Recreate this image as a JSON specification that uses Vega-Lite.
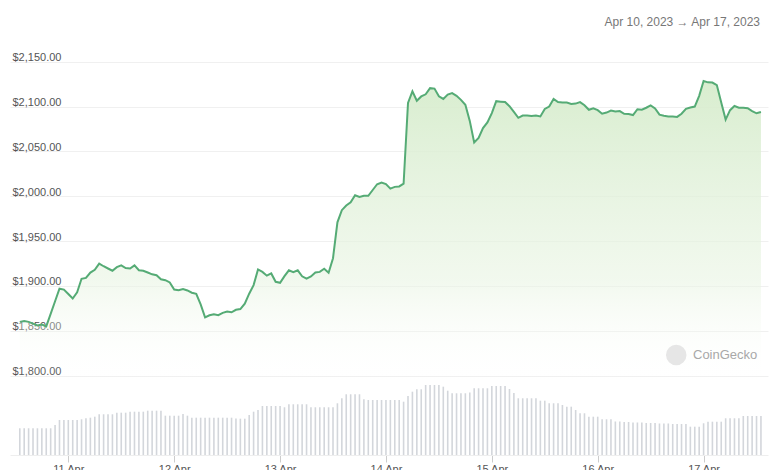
{
  "$schema": "https://vega.github.io/schema/vega-lite/v6.json",
  "width": 758,
  "height": 415,
  "autosize": "none",
  "padding": {"left": 10, "top": 40, "right": 12, "bottom": 15},
  "background": "white",
  "title": {"text": "Apr 10, 2023   →   Apr 17, 2023", "anchor": "end", "frame": "group", "fontSize": 12, "fontWeight": "normal", "color": "#777777", "font": "Liberation Sans", "offset": 11, "dx": -8},
  "config": {
    "view": {"stroke": null},
    "font": "Liberation Sans"
  },
  "datasets": {
    "mark": [
      {"t":"2023-04-16T17:48","p":1823,"label":""},
      {"t":"2023-04-16T21:36","p":1823,"label":"CoinGecko"}
    ]
  },
  "data": {"values": [
    {"t":"2023-04-10T13:00","p":1860,"v":6.68},
    {"t":"2023-04-10T14:00","p":1861,"v":6.68},
    {"t":"2023-04-10T15:00","p":1860,"v":6.68},
    {"t":"2023-04-10T16:00","p":1858,"v":6.68},
    {"t":"2023-04-10T17:00","p":1856,"v":6.68},
    {"t":"2023-04-10T18:00","p":1857,"v":6.68},
    {"t":"2023-04-10T19:00","p":1855,"v":6.68},
    {"t":"2023-04-10T20:00","p":1869,"v":6.68},
    {"t":"2023-04-10T21:00","p":1883,"v":7.5},
    {"t":"2023-04-10T22:00","p":1897,"v":8.75},
    {"t":"2023-04-10T23:00","p":1896,"v":8.75},
    {"t":"2023-04-11T00:00","p":1891,"v":8.75},
    {"t":"2023-04-11T01:00","p":1886,"v":8.75},
    {"t":"2023-04-11T02:00","p":1893,"v":8.75},
    {"t":"2023-04-11T03:00","p":1908,"v":8.93},
    {"t":"2023-04-11T04:00","p":1909,"v":9.18},
    {"t":"2023-04-11T05:00","p":1915,"v":9.33},
    {"t":"2023-04-11T06:00","p":1918,"v":9.58},
    {"t":"2023-04-11T07:00","p":1925,"v":10.18},
    {"t":"2023-04-11T08:00","p":1922,"v":10.18},
    {"t":"2023-04-11T09:00","p":1919.5,"v":10.18},
    {"t":"2023-04-11T10:00","p":1917,"v":10.18},
    {"t":"2023-04-11T11:00","p":1921,"v":10.58},
    {"t":"2023-04-11T12:00","p":1923,"v":10.58},
    {"t":"2023-04-11T13:00","p":1920,"v":10.58},
    {"t":"2023-04-11T14:00","p":1919.5,"v":10.83},
    {"t":"2023-04-11T15:00","p":1923,"v":10.83},
    {"t":"2023-04-11T16:00","p":1917.5,"v":10.83},
    {"t":"2023-04-11T17:00","p":1917,"v":10.83},
    {"t":"2023-04-11T18:00","p":1915,"v":11.08},
    {"t":"2023-04-11T19:00","p":1913,"v":11.08},
    {"t":"2023-04-11T20:00","p":1912,"v":11.08},
    {"t":"2023-04-11T21:00","p":1907.5,"v":11.08},
    {"t":"2023-04-11T22:00","p":1906.5,"v":9.83},
    {"t":"2023-04-11T23:00","p":1904,"v":9.83},
    {"t":"2023-04-12T00:00","p":1896,"v":9.83},
    {"t":"2023-04-12T01:00","p":1895.3,"v":9.83},
    {"t":"2023-04-12T02:00","p":1896.6,"v":10.25},
    {"t":"2023-04-12T03:00","p":1895,"v":9.83},
    {"t":"2023-04-12T04:00","p":1892.5,"v":9.33},
    {"t":"2023-04-12T05:00","p":1891.2,"v":9.33},
    {"t":"2023-04-12T06:00","p":1879.5,"v":9.33},
    {"t":"2023-04-12T07:00","p":1865,"v":9.33},
    {"t":"2023-04-12T08:00","p":1867.3,"v":9.33},
    {"t":"2023-04-12T09:00","p":1868.5,"v":9.33},
    {"t":"2023-04-12T10:00","p":1867.5,"v":9.33},
    {"t":"2023-04-12T11:00","p":1870,"v":9.33},
    {"t":"2023-04-12T12:00","p":1871.5,"v":9.33},
    {"t":"2023-04-12T13:00","p":1870.7,"v":9.33},
    {"t":"2023-04-12T14:00","p":1873.5,"v":9.13},
    {"t":"2023-04-12T15:00","p":1874.3,"v":9.08},
    {"t":"2023-04-12T16:00","p":1880.2,"v":9.08},
    {"t":"2023-04-12T17:00","p":1891.4,"v":10},
    {"t":"2023-04-12T18:00","p":1901,"v":10.83},
    {"t":"2023-04-12T19:00","p":1918.4,"v":11.25},
    {"t":"2023-04-12T20:00","p":1915.7,"v":12.25},
    {"t":"2023-04-12T21:00","p":1911.5,"v":12.25},
    {"t":"2023-04-12T22:00","p":1914,"v":12.25},
    {"t":"2023-04-12T23:00","p":1904.7,"v":12.25},
    {"t":"2023-04-13T00:00","p":1903.5,"v":12.25},
    {"t":"2023-04-13T01:00","p":1911,"v":11.93},
    {"t":"2023-04-13T02:00","p":1917.5,"v":12.68},
    {"t":"2023-04-13T03:00","p":1915.5,"v":12.68},
    {"t":"2023-04-13T04:00","p":1917.5,"v":12.68},
    {"t":"2023-04-13T05:00","p":1910.8,"v":12.68},
    {"t":"2023-04-13T06:00","p":1908.2,"v":12.68},
    {"t":"2023-04-13T07:00","p":1910.7,"v":11.93},
    {"t":"2023-04-13T08:00","p":1915,"v":11.93},
    {"t":"2023-04-13T09:00","p":1915.7,"v":11.93},
    {"t":"2023-04-13T10:00","p":1919.3,"v":11.93},
    {"t":"2023-04-13T11:00","p":1914.8,"v":11.93},
    {"t":"2023-04-13T12:00","p":1931,"v":11.93},
    {"t":"2023-04-13T13:00","p":1971,"v":12.93},
    {"t":"2023-04-13T14:00","p":1984.5,"v":14.18},
    {"t":"2023-04-13T15:00","p":1989.7,"v":15.18},
    {"t":"2023-04-13T16:00","p":1993.4,"v":15.18},
    {"t":"2023-04-13T17:00","p":2001.2,"v":15.18},
    {"t":"2023-04-13T18:00","p":1999.3,"v":15.18},
    {"t":"2023-04-13T19:00","p":2000.6,"v":13.93},
    {"t":"2023-04-13T20:00","p":2000.5,"v":13.75},
    {"t":"2023-04-13T21:00","p":2007,"v":13.75},
    {"t":"2023-04-13T22:00","p":2013.4,"v":13.75},
    {"t":"2023-04-13T23:00","p":2015.4,"v":13.75},
    {"t":"2023-04-14T00:00","p":2013.6,"v":13.75},
    {"t":"2023-04-14T01:00","p":2008.5,"v":13.75},
    {"t":"2023-04-14T02:00","p":2010.5,"v":13.75},
    {"t":"2023-04-14T03:00","p":2011,"v":13.75},
    {"t":"2023-04-14T04:00","p":2014,"v":13.33},
    {"t":"2023-04-14T05:00","p":2104,"v":14.75},
    {"t":"2023-04-14T06:00","p":2117,"v":15.83},
    {"t":"2023-04-14T07:00","p":2106.5,"v":16.43},
    {"t":"2023-04-14T08:00","p":2111.3,"v":16.43},
    {"t":"2023-04-14T09:00","p":2113.7,"v":17.5},
    {"t":"2023-04-14T10:00","p":2120.5,"v":17.5},
    {"t":"2023-04-14T11:00","p":2120,"v":17.5},
    {"t":"2023-04-14T12:00","p":2111.5,"v":17.5},
    {"t":"2023-04-14T13:00","p":2108.5,"v":17.08},
    {"t":"2023-04-14T14:00","p":2113.4,"v":16.08},
    {"t":"2023-04-14T15:00","p":2115,"v":15.43},
    {"t":"2023-04-14T16:00","p":2112,"v":15.43},
    {"t":"2023-04-14T17:00","p":2107.5,"v":15.43},
    {"t":"2023-04-14T18:00","p":2102,"v":15.43},
    {"t":"2023-04-14T19:00","p":2084,"v":15.63},
    {"t":"2023-04-14T20:00","p":2060,"v":16.68},
    {"t":"2023-04-14T21:00","p":2065,"v":16.68},
    {"t":"2023-04-14T22:00","p":2076,"v":16.68},
    {"t":"2023-04-14T23:00","p":2082.4,"v":16.68},
    {"t":"2023-04-15T00:00","p":2092.7,"v":17.25},
    {"t":"2023-04-15T01:00","p":2106,"v":17.25},
    {"t":"2023-04-15T02:00","p":2105.5,"v":17.25},
    {"t":"2023-04-15T03:00","p":2105,"v":17.25},
    {"t":"2023-04-15T04:00","p":2100.4,"v":16.5},
    {"t":"2023-04-15T05:00","p":2094,"v":15.5},
    {"t":"2023-04-15T06:00","p":2087.5,"v":14.18},
    {"t":"2023-04-15T07:00","p":2090,"v":14.18},
    {"t":"2023-04-15T08:00","p":2090,"v":14.18},
    {"t":"2023-04-15T09:00","p":2089.4,"v":14.18},
    {"t":"2023-04-15T10:00","p":2090,"v":14.18},
    {"t":"2023-04-15T11:00","p":2089,"v":13.58},
    {"t":"2023-04-15T12:00","p":2097.3,"v":13.58},
    {"t":"2023-04-15T13:00","p":2100,"v":12.93},
    {"t":"2023-04-15T14:00","p":2108.4,"v":12.93},
    {"t":"2023-04-15T15:00","p":2105,"v":12.93},
    {"t":"2023-04-15T16:00","p":2104.5,"v":12.5},
    {"t":"2023-04-15T17:00","p":2104.5,"v":12.08},
    {"t":"2023-04-15T18:00","p":2103,"v":12.08},
    {"t":"2023-04-15T19:00","p":2103.3,"v":11.25},
    {"t":"2023-04-15T20:00","p":2105,"v":10.43},
    {"t":"2023-04-15T21:00","p":2101.5,"v":10.43},
    {"t":"2023-04-15T22:00","p":2096.4,"v":9.58},
    {"t":"2023-04-15T23:00","p":2098,"v":9.58},
    {"t":"2023-04-16T00:00","p":2096,"v":9.58},
    {"t":"2023-04-16T01:00","p":2092,"v":8.93},
    {"t":"2023-04-16T02:00","p":2093.3,"v":8.93},
    {"t":"2023-04-16T03:00","p":2095.5,"v":8.93},
    {"t":"2023-04-16T04:00","p":2094.5,"v":8.38},
    {"t":"2023-04-16T05:00","p":2095,"v":8.38},
    {"t":"2023-04-16T06:00","p":2092,"v":8.25},
    {"t":"2023-04-16T07:00","p":2091.6,"v":8.25},
    {"t":"2023-04-16T08:00","p":2090.5,"v":8.13},
    {"t":"2023-04-16T09:00","p":2097,"v":8.13},
    {"t":"2023-04-16T10:00","p":2096.5,"v":8.13},
    {"t":"2023-04-16T11:00","p":2098.7,"v":8},
    {"t":"2023-04-16T12:00","p":2101.4,"v":8},
    {"t":"2023-04-16T13:00","p":2098,"v":8},
    {"t":"2023-04-16T14:00","p":2091,"v":7.88},
    {"t":"2023-04-16T15:00","p":2089.8,"v":7.88},
    {"t":"2023-04-16T16:00","p":2089,"v":7.88},
    {"t":"2023-04-16T17:00","p":2089,"v":7.75},
    {"t":"2023-04-16T18:00","p":2088.5,"v":7.75},
    {"t":"2023-04-16T19:00","p":2092,"v":7.75},
    {"t":"2023-04-16T20:00","p":2097.5,"v":7.75},
    {"t":"2023-04-16T21:00","p":2099,"v":7.08},
    {"t":"2023-04-16T22:00","p":2100,"v":7.08},
    {"t":"2023-04-16T23:00","p":2112,"v":7.08},
    {"t":"2023-04-17T00:00","p":2128.5,"v":7.93},
    {"t":"2023-04-17T01:00","p":2127,"v":8.33},
    {"t":"2023-04-17T02:00","p":2126.8,"v":8.33},
    {"t":"2023-04-17T03:00","p":2124,"v":8.33},
    {"t":"2023-04-17T04:00","p":2104.6,"v":8.33},
    {"t":"2023-04-17T05:00","p":2085.5,"v":9.18},
    {"t":"2023-04-17T06:00","p":2096,"v":9.18},
    {"t":"2023-04-17T07:00","p":2100.6,"v":9.18},
    {"t":"2023-04-17T08:00","p":2098.7,"v":9.18},
    {"t":"2023-04-17T09:00","p":2098.8,"v":9.75},
    {"t":"2023-04-17T10:00","p":2098.2,"v":9.75},
    {"t":"2023-04-17T11:00","p":2095,"v":9.75},
    {"t":"2023-04-17T12:00","p":2092.5,"v":9.75},
    {"t":"2023-04-17T13:00","p":2094,"v":9.75}
  ]},
  "encoding": {
    "x": {
      "field": "t", "type": "temporal",
      "scale": {"domain": [{"year": 2023, "month": "apr", "date": 10, "hours": 11, "minutes": 55}, {"year": 2023, "month": "apr", "date": 17, "hours": 13, "minutes": 28}]},
      "axis": {"title": null, "format": "%-d %b", "tickCount": {"interval": "day", "step": 1}, "grid": false, "domain": true, "domainColor": "#eeeeee", "ticks": true, "tickSize": 7, "tickColor": "#cccccc", "labelColor": "#555555", "labelFontSize": 11, "labelFont": "Liberation Sans", "labelPadding": 1, "labelFlush": false}
    }
  },
  "layer": [
    {
      "mark": {"type": "bar", "width": 1.6, "color": "#d3d6db"},
      "encoding": {
        "y": {"field": "v", "type": "quantitative", "scale": {"domain": [0, 103.75], "nice": false, "zero": true}, "axis": null}
      }
    },
    {
      "mark": {"type": "area", "line": false, "color": {"gradient": "linear", "x1": 1, "y1": 1, "x2": 1, "y2": 0, "stops": [{"offset": 0, "color": "rgba(255,255,255,0)"}, {"offset": 0.35, "color": "rgba(232,244,226,0.6)"}, {"offset": 1, "color": "rgba(214,236,204,0.95)"}]}},
      "encoding": {
        "y": {"field": "p", "type": "quantitative", "scale": {"domain": [1711.6, 2174.2], "nice": false, "zero": false}, "axis": null},
        "y2": {"datum": 1790}
      }
    },
    {
      "mark": {"type": "line", "color": "#55ab75", "strokeWidth": 2, "interpolate": "linear"},
      "encoding": {
        "y": {
          "field": "p", "type": "quantitative",
          "scale": {"domain": [1711.6, 2174.2], "nice": false, "zero": false},
          "axis": {"title": null, "orient": "left", "values": [1800, 1850, 1900, 1950, 2000, 2050, 2100, 2150], "format": "$,.2f", "domain": false, "ticks": false, "tickSize": 0, "grid": true, "gridColor": "#f0f0f0", "gridWidth": 1, "labelAlign": "left", "labelBaseline": "alphabetic", "labelPadding": -2, "labelOffset": -1, "labelColor": "#555555", "labelFontSize": 11, "labelFont": "Liberation Sans"}
        }
      }
    },
    {
      "data": {"name": "mark"},
      "transform": [{"filter": "datum.label == ''"}],
      "mark": {"type": "point", "shape": "circle", "filled": true, "color": "#e6e6e6", "size": 420, "opacity": 1},
      "encoding": {
        "y": {"field": "p", "type": "quantitative", "scale": {"domain": [1711.6, 2174.2], "nice": false, "zero": false}, "axis": null}
      }
    },
    {
      "data": {"name": "mark"},
      "transform": [{"filter": "datum.label != ''"}],
      "mark": {"type": "text", "align": "left", "baseline": "middle", "fontSize": 13, "color": "#a8a8a8", "font": "Liberation Sans"},
      "encoding": {
        "text": {"field": "label"},
        "y": {"field": "p", "type": "quantitative", "scale": {"domain": [1711.6, 2174.2], "nice": false, "zero": false}, "axis": null}
      }
    }
  ],
  "resolve": {"scale": {"y": "independent"}}
}
